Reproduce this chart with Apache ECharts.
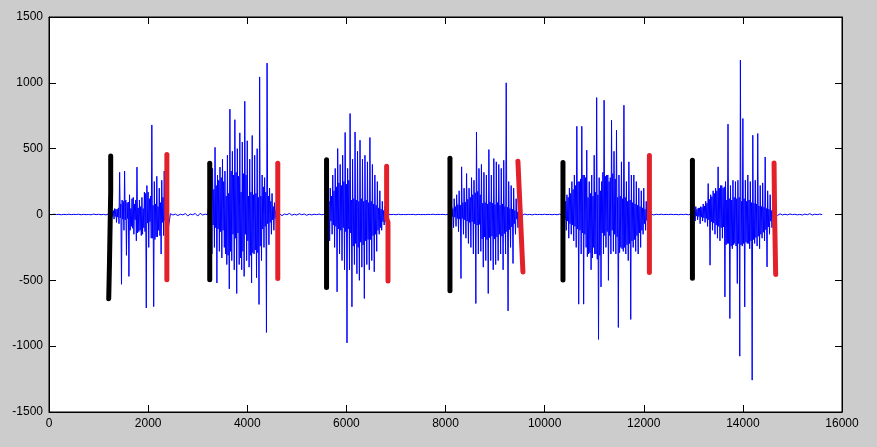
<!DOCTYPE html>
<html>
<head>
<meta charset="utf-8">
<script src="https://cdn.jsdelivr.net/npm/echarts@6/dist/echarts.min.js"></script>
<style>
  html, body { margin: 0; padding: 0; background: #cccccc; }
  #wave { width: 877px; height: 447px; }
</style>
</head>
<body>
<div id="wave"></div>
<script>
// axis ticks
var xTicks = [0, 2000, 4000, 6000, 8000, 10000, 12000, 14000, 16000];
var yTicks = [-1500, -1000, -500, 0, 500, 1000, 1500];

// quiet stretches between words, one value every 50 samples
var quiet0 = [1,-1,2,0,1,-2,1,-1,2,-1,1,0,2,-2,1,-1,0,-2,3,-1,2,-2,1,-3,4,-5];     // from 0
var quiet1 = [6,-4,3,-8,2,-3,7,-10,3,-2,8,-12,9,-4,3,-2];                          // from 2450
var quiet2 = [7,-9,4,-2,8,-5,2,-4,6,-2,4,-6,2,-3,2,-1,3,-2,1,-4];                  // from 4650
var quiet3 = [2,-1,1,-2,2,-1,0,-1,1,0,1,-2,1,-1,0,-1,1,0,2,-1,1,0,1,-2,2,-4];      // from 6850
var quiet4 = [4,-5,3,-2,1,-3,2,-1,1,-1,2,-1,1,-2,1,-2,3,-4];                       // from 9500
var quiet5 = [2,-3,2,-1,2,-1,1,-1,2,-1,1,-2,1,-1,2,-2,3];                          // from 12150
var quiet6 = [4,-7,5,-3,2,-3,4,-1,2,-3,1,-4,3,-2,6,-4,2,-1,3,-1];                  // from 14650

// speech bursts: peaks every 25 samples, plus the dense core level between them
var burst1 = [20,-35,45,-60,40,-70,320,-530,110,-120,330,-310,90,-470,150,-90,120,-150,80,-200,
              360,-130,110,-160,130,-100,170,-710,220,-250,120,-180,680,-700,250,-170,290,-120,200,-300,
              260,-160,330,-150,180,-90];                                   // from 1275
var core1  = [15,30,15,40,20,50,25,80,35,100,40,110,30,95,120,45,105,130,40,110,
              140,50,120,60,150,45,130,160,65,170,55,140,180,70,190,80,170,60,160,90,
              60,130,45,65,25,30];
var burst2 = [150,-300,350,-250,510,-520,300,-280,360,-330,420,-250,330,-380,450,-565,800,-350,480,-420,
              720,-600,500,-380,620,-420,550,-470,860,-350,560,-400,420,-520,600,-300,450,-480,500,-683,
              1045,-350,300,-250,280,-896,1150,-230,200,-150,160,-120,90,-60];  // from 3250
var core2  = [60,150,80,190,100,220,110,260,130,280,120,250,300,140,310,160,280,330,150,300,
              180,320,140,290,330,170,280,310,150,300,200,140,310,170,290,150,270,160,290,130,
              240,140,110,210,90,170,70,140,60,100,40,60,30,30];
var burst3 = [80,-200,200,-150,300,-250,350,-587,501,-300,380,-350,450,-420,623,-975,350,-420,767,-701,
              420,-380,627,-450,480,-500,564,-400,420,-638,450,-380,400,-420,585,-350,380,-435,300,-280,
              250,-150,180,-120,100,-80,60,-40];                             // from 5625
var core3  = [40,100,50,140,80,180,90,210,110,240,120,220,100,250,130,230,110,260,140,110,
              240,120,220,110,250,100,210,120,230,100,200,110,190,90,190,100,160,80,150,70,
              120,50,100,40,55,30,30,15];
var burst4 = [60,-100,120,-90,150,-130,180,-486,362,-150,200,-180,311,-220,200,-250,280,-300,260,-676,
              627,-300,350,-280,380,-400,320,-350,300,-600,493,-350,300,-420,425,-380,400,-350,380,-300,
              350,-420,412,-300,1000,-732,250,-250,220,-372,200,-150,120,-100,80];  // from 8125
var core4  = [15,45,20,60,30,75,35,70,30,90,40,95,50,115,60,130,55,150,70,165,
              80,175,75,150,185,85,170,90,190,80,175,95,165,85,185,75,170,90,150,70,
              165,80,145,60,130,55,115,45,95,40,70,30,35,20,15];
var burst5 = [80,-120,150,-180,200,-150,250,-200,300,-250,670,-681,250,-300,670,-681,300,-250,488,-300,
              250,-420,300,-250,450,-300,888,-949,280,-550,250,-300,868,-250,300,-500,250,-300,716,-280,
              480,-300,640,-858,300,-250,400,-280,830,-300,250,-350,400,-797,300,-250,300,-280,250,-300,
              200,-250,180,-150,200,-120,100,-80,60];                        // from 10400
var core5  = [40,100,50,130,70,160,80,190,90,220,110,250,120,270,140,300,150,280,320,130,
              290,160,330,140,300,170,340,150,310,180,140,320,160,290,130,300,160,280,120,310,
              150,270,170,130,290,140,260,120,250,130,230,100,220,110,200,90,190,80,160,70,
              140,60,120,50,70,40,45,30,20];
var burst6 = [30,-50,60,-40,50,-70,60,-50,80,-60,100,-90,235,-385,150,-120,180,-150,200,-180,
              362,-200,220,-180,200,-626,250,-220,686,-790,220,-260,260,-220,250,-524,260,-1076,1172,-240,
              729,-702,260,-220,300,-260,250,-1258,602,-220,260,-240,615,-260,220,-180,240,-200,437,-398,
              180,-150,150,-100,80,-60];                                     // from 13000
var core6  = [10,30,12,40,15,50,20,55,25,65,30,85,40,115,55,135,65,160,80,180,
              90,200,100,220,95,210,230,110,220,120,240,110,230,130,240,120,220,130,230,100,
              220,120,210,100,220,110,200,90,190,85,175,80,165,65,150,60,135,55,115,45,
              95,40,50,30,25,15];

// endpoint markers (sample, amplitude)
var startMarks = [
  [[1245,445],[1245,175],[1220,170],[1220,-370],[1205,-375],[1205,-640]],
  [[3243,390],[3243,-495]],
  [[5600,415],[5600,-555]],
  [[8090,428],[8090,-580]],
  [[10370,395],[10370,-498]],
  [[12982,412],[12982,-485]]
];
var endMarks = [
  [[2378,455],[2378,-495]],
  [[4616,390],[4616,-486]],
  [[6812,367],[6812,-30],[6840,-60],[6840,-505]],
  [[9461,405],[9510,0],[9562,-436]],
  [[12114,448],[12114,-441]],
  [[14629,392],[14640,0],[14662,-456]]
];

var wave = [];
function addQuiet(start, vals) {
  for (var i = 0; i < vals.length; i++) wave.push([start + i * 50, vals[i]]);
}
// peak and core alternate in sign, half a step apart
function addBurst(start, peaks, core) {
  var x = start;
  for (var i = 0; i < peaks.length; i++) {
    if (peaks[i] > 0) { wave.push([x, peaks[i]]); wave.push([x + 12.5, -core[i]]); }
    else { wave.push([x, core[i]]); wave.push([x + 12.5, peaks[i]]); }
    x += 25;
  }
}
addQuiet(0, quiet0);
addBurst(1275, burst1, core1);
addQuiet(2450, quiet1);
addBurst(3250, burst2, core2);
addQuiet(4650, quiet2);
addBurst(5625, burst3, core3);
addQuiet(6850, quiet3);
addBurst(8125, burst4, core4);
addQuiet(9500, quiet4);
addBurst(10400, burst5, core5);
addQuiet(12150, quiet5);
addBurst(13000, burst6, core6);
addQuiet(14650, quiet6);

var font = { color: '#000', fontFamily: 'Liberation Sans, Arial, sans-serif', fontSize: 12,
             formatter: function (v) { return String(v); } };

function markSeries(pts, color) {
  return {
    type: 'line', data: pts, xAxisIndex: 0, yAxisIndex: 0,
    showSymbol: false, silent: true, z: 3,
    lineStyle: { color: color, width: 5, cap: 'round', join: 'round' }
  };
}

var series = [{
  type: 'line', data: wave, xAxisIndex: 0, yAxisIndex: 0,
  showSymbol: false, sampling: null, silent: true, z: 2,
  lineStyle: { color: '#0000ff', width: 1 }
}];
startMarks.forEach(function (m) { series.push(markSeries(m, '#000000')); });
endMarks.forEach(function (m) { series.push(markSeries(m, '#e3212b')); });

var tickStyle = { show: true, inside: true, length: 7, lineStyle: { color: '#000', width: 1 } };
var edgeLine = { show: true, onZero: false, lineStyle: { color: '#000', width: 1 } };

var chart = document.getElementById('wave');
var echart = echarts.init(chart);
var option = {
  backgroundColor: '#cccccc',
  animation: false,
  grid: { left: 49, right: 35, top: 17, bottom: 35, show: true, z: 0,
          backgroundColor: '#ffffff', borderColor: '#000', borderWidth: 1 },
  xAxis: [
    { type: 'value', z: 5, min: xTicks[0], max: xTicks[xTicks.length - 1], interval: 2000,
      axisLine: edgeLine, axisTick: tickStyle, splitLine: { show: false },
      axisLabel: Object.assign({ margin: 6 }, font) },
    { type: 'value', z: 5, position: 'top', min: xTicks[0], max: xTicks[xTicks.length - 1], interval: 2000,
      axisLine: edgeLine, axisTick: tickStyle, splitLine: { show: false },
      axisLabel: { show: false } }
  ],
  yAxis: [
    { type: 'value', z: 5, min: yTicks[0], max: yTicks[yTicks.length - 1], interval: 500,
      axisLine: edgeLine, axisTick: tickStyle, splitLine: { show: false },
      axisLabel: Object.assign({ margin: 6 }, font) },
    { type: 'value', z: 5, position: 'right', min: yTicks[0], max: yTicks[yTicks.length - 1], interval: 500,
      axisLine: edgeLine, axisTick: tickStyle, splitLine: { show: false },
      axisLabel: { show: false } }
  ],
  series: series
};
echart.setOption(option);
</script>
</body>
</html>
